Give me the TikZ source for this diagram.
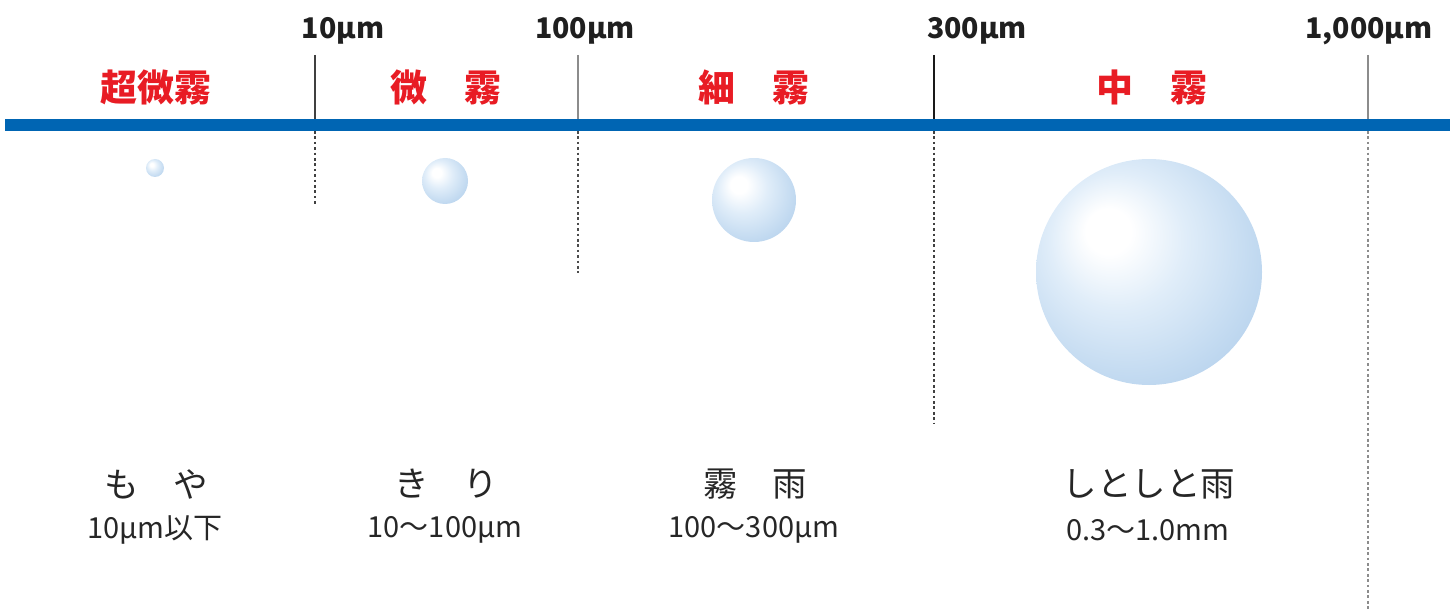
\documentclass[tikz,border=0pt]{standalone}
\usepackage{fontspec}
\setmainfont{Noto Sans CJK JP}
\definecolor{barblue}{RGB}{0,101,179}
\definecolor{fogred}{RGB}{232,28,36}
\definecolor{dropA}{RGB}{224,237,249}
\definecolor{dropB}{RGB}{196,219,241}
\definecolor{dropC}{RGB}{174,204,234}
\pgfdeclareradialshading{drop}{\pgfqpoint{-10bp}{10bp}}{color(0bp)=(white); color(5bp)=(white); color(15bp)=(dropA); color(27bp)=(dropB); color(37bp)=(dropC); color(50bp)=(dropC)}
\tikzset{
  scalelbl/.style={font=\fontsize{28.5}{31}\selectfont\bfseries, text=black!88, inner sep=0pt},
  classlbl/.style={font=\fontsize{37}{40}\selectfont\bfseries, text=fogred, inner sep=0pt},
  namelbl/.style={font=\fontsize{34.5}{37}\selectfont, text=black!85, inner sep=0pt},
  sizelbl/.style={font=\fontsize{29}{32}\selectfont, text=black!85, inner sep=0pt},
  tick/.style={line width=1.2pt},
  guide/.style={line width=1.1pt, dash pattern=on 2.7pt off 2.7pt},
  drop/.style={circle, shading=drop, draw=none, inner sep=0pt, minimum size=#1},
}
\begin{document}
\begin{tikzpicture}[x=1pt,y=-1pt]
\useasboundingbox (0,0) rectangle (1450,609);
% blue bar
\fill[barblue] (5,119) rectangle (1450,131);
% ticks above the bar
\coordinate (t1a) at (315,55);  \coordinate (t1b) at (315,119);
\coordinate (t2a) at (578,55);  \coordinate (t2b) at (578,119);
\coordinate (t3a) at (934,55);  \coordinate (t3b) at (934,119);
\coordinate (t4a) at (1368,55); \coordinate (t4b) at (1368,119);
\draw[tick, black!75] (t1a) -- (t1b);
\draw[tick, black!45] (t2a) -- (t2b);
\draw[tick, black!90] (t3a) -- (t3b);
\draw[tick, black!45] (t4a) -- (t4b);
% guides below the bar
\coordinate (g1a) at (315,131);  \coordinate (g1b) at (315,205);
\coordinate (g2a) at (578,131);  \coordinate (g2b) at (578,273);
\coordinate (g3a) at (934,131);  \coordinate (g3b) at (934,423);
\coordinate (g4a) at (1368,131); \coordinate (g4b) at (1368,609);
\draw[guide, black!75] (g1a) -- (g1b);
\draw[guide, black!70] (g2a) -- (g2b);
\draw[guide, black!75] (g3a) -- (g3b);
\draw[guide, black!45] (g4a) -- (g4b);
% scale labels
\node[scalelbl] (s10) at (343,31) {10µm};
\node[scalelbl] (s100) at (585,31) {100µm};
\node[scalelbl] (s300) at (977,31) {300µm};
\node[scalelbl] (s1000) at (1369,31) {1,000µm};
% class labels
\node[classlbl] (c1) at (156,88) {超微霧};
\node[classlbl] (c2) at (446,88) {微　霧};
\node[classlbl] (c3) at (754,88) {細　霧};
\node[classlbl] (c4) at (1152,88) {中　霧};
% drops
\node[drop=18pt] (d1) at (155,168) {};
\node[drop=46pt] (d2) at (445,181) {};
\node[drop=84pt] (d3) at (754,200) {};
\node[drop=226pt] (d4) at (1149,272) {};
% names
\node[namelbl] (n1) at (156,484) {も　や};
\node[namelbl] (n2) at (446,484) {き　り};
\node[namelbl] (n3) at (755,484) {霧　雨};
\node[namelbl] (n4) at (1149,484) {しとしと雨};
% sizes
\node[sizelbl] (z1) at (155,530) {10µm以下};
\node[sizelbl] (z2) at (445,530) {10〜100µm};
\node[sizelbl] (z3) at (754,530) {100〜300µm};
\node[sizelbl] (z4) at (1148,530) {0.3〜1.0mm};
\end{tikzpicture}
\end{document}
